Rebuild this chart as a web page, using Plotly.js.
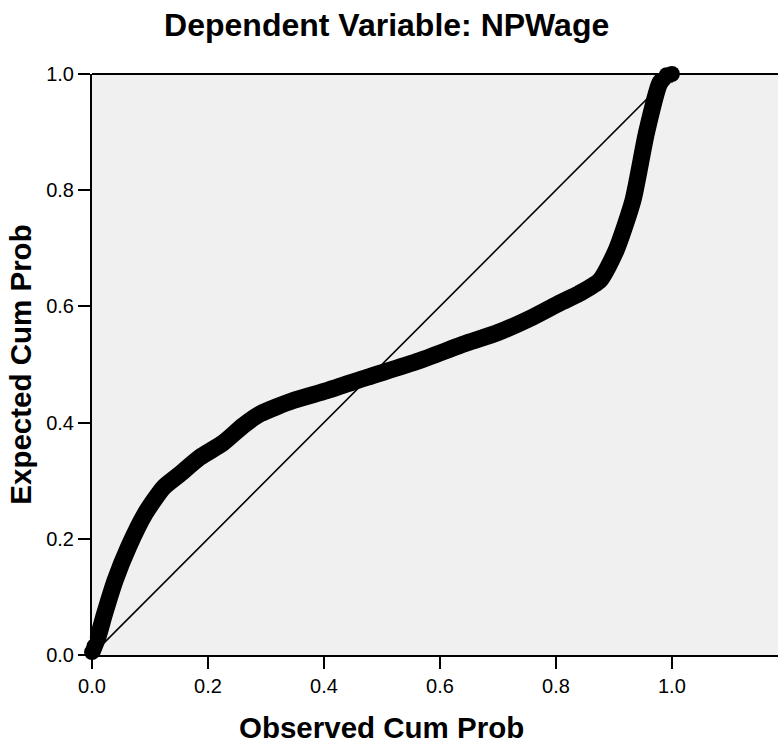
<!DOCTYPE html>
<html>
<head>
<meta charset="utf-8">
<script src="https://cdn.plot.ly/plotly-3.0.1.min.js"></script>
<style>html,body{margin:0;padding:0;background:#fff;overflow:hidden;}</style>
</head>
<body>
<div id="chart" style="width:778px;height:743px;"></div>
<script>
// Observed vs expected cumulative probability (P-P plot)
const observedCumProb = [0.000, 0.004, 0.010, 0.022, 0.040, 0.063, 0.092, 0.123, 0.150, 0.186, 0.226, 0.261, 0.290, 0.347, 0.405, 0.475, 0.560, 0.646, 0.700, 0.761, 0.807, 0.840, 0.876, 0.904, 0.933, 0.956, 0.979, 0.991, 1.000];
const expectedCumProb = [0.005, 0.015, 0.030, 0.072, 0.129, 0.186, 0.244, 0.288, 0.310, 0.340, 0.365, 0.395, 0.415, 0.438, 0.455, 0.478, 0.505, 0.537, 0.555, 0.582, 0.606, 0.622, 0.645, 0.697, 0.783, 0.898, 0.984, 0.998, 1.000];
const refLineX = [0, 1];
const refLineY = [0, 1];
const tickValues = [0, 0.2, 0.4, 0.6, 0.8, 1.0];
const tickLabels = ['0.0', '0.2', '0.4', '0.6', '0.8', '1.0'];

const FONT = 'Liberation Sans, Arial, sans-serif';

const traces = [
  {
    x: refLineX, y: refLineY, type: 'scatter', mode: 'lines',
    line: {color: '#000', width: 1.6}, hoverinfo: 'skip', showlegend: false
  },
  {
    x: observedCumProb, y: expectedCumProb, type: 'scatter', mode: 'lines+markers',
    line: {color: '#000', width: 17, shape: 'spline', smoothing: 0.6},
    marker: {color: '#000', size: 16},
    cliponaxis: false, showlegend: false
  }
];

const layout = {
  width: 778, height: 743,
  margin: {l: 92, r: 0, t: 74, b: 88},
  paper_bgcolor: '#ffffff',
  plot_bgcolor: '#f0f0f0',
  showlegend: false,
  title: {
    text: 'Dependent Variable: NPWage',
    font: {family: FONT, size: 32, weight: 'bold', color: '#000'},
    x: 0.497, xref: 'container', xanchor: 'center',
    y: 1 - 25/743, yref: 'container', yanchor: 'middle'
  },
  xaxis: {
    range: [0, 1.183],
    tickvals: tickValues, ticktext: tickLabels,
    ticks: 'outside', ticklen: 12, tickwidth: 2, tickcolor: '#000',
    showline: true, linecolor: '#000', linewidth: 2, mirror: false,
    showgrid: false, zeroline: false,
    tickfont: {family: FONT, size: 20, color: '#000'},
    fixedrange: true
  },
  yaxis: {
    range: [0, 1],
    tickvals: tickValues, ticktext: tickLabels,
    ticks: 'outside', ticklen: 12, tickwidth: 2, tickcolor: '#000',
    showline: true, linecolor: '#000', linewidth: 2, mirror: false,
    showgrid: false, zeroline: false,
    tickfont: {family: FONT, size: 20, color: '#000'},
    title: {text: 'Expected Cum Prob', font: {family: FONT, size: 29.5, weight: 'bold', color: '#000'}, standoff: 6},
    fixedrange: true
  },
  shapes: [
    {type: 'line', xref: 'paper', yref: 'paper', x0: 0, x1: 1, y0: 1, y1: 1,
     line: {color: '#000', width: 2}}
  ],
  annotations: [
    {
      text: 'Observed Cum Prob', xref: 'x', yref: 'paper',
      x: 0.5, y: 0, yshift: -72, xanchor: 'center', yanchor: 'middle',
      showarrow: false,
      font: {family: FONT, size: 29.5, weight: 'bold', color: '#000'}
    }
  ]
};

Plotly.newPlot('chart', traces, layout, {displayModeBar: false, staticPlot: true}).then(function () {
  // remove any stroke on the plot background rectangle
  document.querySelectorAll('rect.bg').forEach(function (r) { r.style.strokeWidth = '0'; });
});
</script>
</body>
</html>
